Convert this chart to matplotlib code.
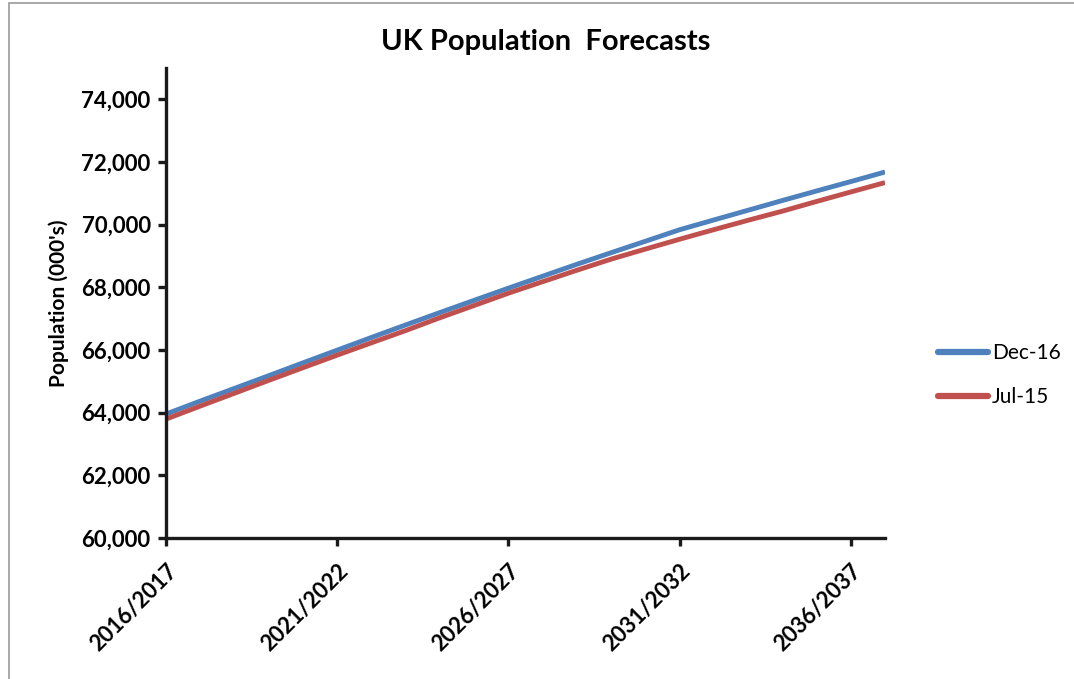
import matplotlib
matplotlib.use("Agg")
import matplotlib.pyplot as plt
from matplotlib.patches import Rectangle
from matplotlib.ticker import FuncFormatter

# Projection years (financial-year style labels)
years = [f"{y}/{y + 1}" for y in range(2016, 2038)]

# Projected UK population, thousands
dec16 = [63955, 64370, 64775, 65180, 65590, 65995, 66400, 66800, 67195, 67585,
         67973, 68355, 68735, 69105, 69470, 69838, 70150, 70460, 70770, 71075,
         71375, 71681]
jul15 = [63795, 64210, 64620, 65030, 65435, 65836, 66230, 66620, 67030, 67420,
         67813, 68180, 68545, 68900, 69220, 69535, 69840, 70140, 70430, 70740,
         71044, 71343]

series_names = ["Dec-16", "Jul-15"]
colors = ["#4F81BD", "#C0504D"]

plt.rcParams['font.family'] = ['Lato', 'DejaVu Sans']

W, H = 1074, 679
fig = plt.figure(figsize=(W / 100, H / 100), dpi=100)

# outer chart border
fig.patches.append(Rectangle((9 / W, -0.1), 1.2, 1.1 - 3 / H,
                             transform=fig.transFigure, fill=False,
                             edgecolor="#9a9a9a", linewidth=1.2))

ax = fig.add_axes([166 / W, 1 - 538 / H, (885 - 166) / W, (538 - 68) / H])

x = list(range(len(years)))
ax.plot(x, dec16, color=colors[0], linewidth=3.5, label=series_names[0],
        solid_capstyle="butt")
ax.plot(x, jul15, color=colors[1], linewidth=3.5, label=series_names[1],
        solid_capstyle="butt")

ax.set_xlim(0, len(years) - 1)
ax.set_ylim(60000, 75000)
ax.set_yticks(range(60000, 74001, 2000))
ax.yaxis.set_major_formatter(FuncFormatter(lambda v, p: f"{int(v):,}"))

tick_idx = list(range(0, len(years), 5))
ax.set_xticks(tick_idx)
ax.set_xticklabels([years[i] for i in tick_idx], rotation=45, ha="right",
                   va="top", rotation_mode="anchor", fontsize=16,
                   fontweight="bold")
for lbl in ax.get_yticklabels():
    lbl.set_fontsize(16)
    lbl.set_fontweight("bold")

for side in ["top", "right"]:
    ax.spines[side].set_visible(False)
for side in ["left", "bottom"]:
    ax.spines[side].set_linewidth(2.4)
    ax.spines[side].set_color("#1a1a1a")

ax.tick_params(axis="both", direction="out", length=6, width=2.4,
               color="#1a1a1a")
ax.tick_params(axis="y", pad=5)
ax.tick_params(axis="x", pad=10)

ax.set_ylabel("Population (000's)", fontsize=15, fontweight="bold", labelpad=9)
fig.text(546 / W, 1 - 42 / H, "UK Population  Forecasts", fontsize=21,
         fontweight="bold", ha="center", va="center")

leg = fig.legend(loc="center left", bbox_to_anchor=(919 / W, 1 - 375 / H),
                 frameon=False, fontsize=15, handlelength=2.4,
                 handletextpad=0.2, labelspacing=1.15)
for line in leg.get_lines():
    line.set_linewidth(4.5)
    line.set_solid_capstyle("round")

fig.savefig("out.png", dpi=100)
